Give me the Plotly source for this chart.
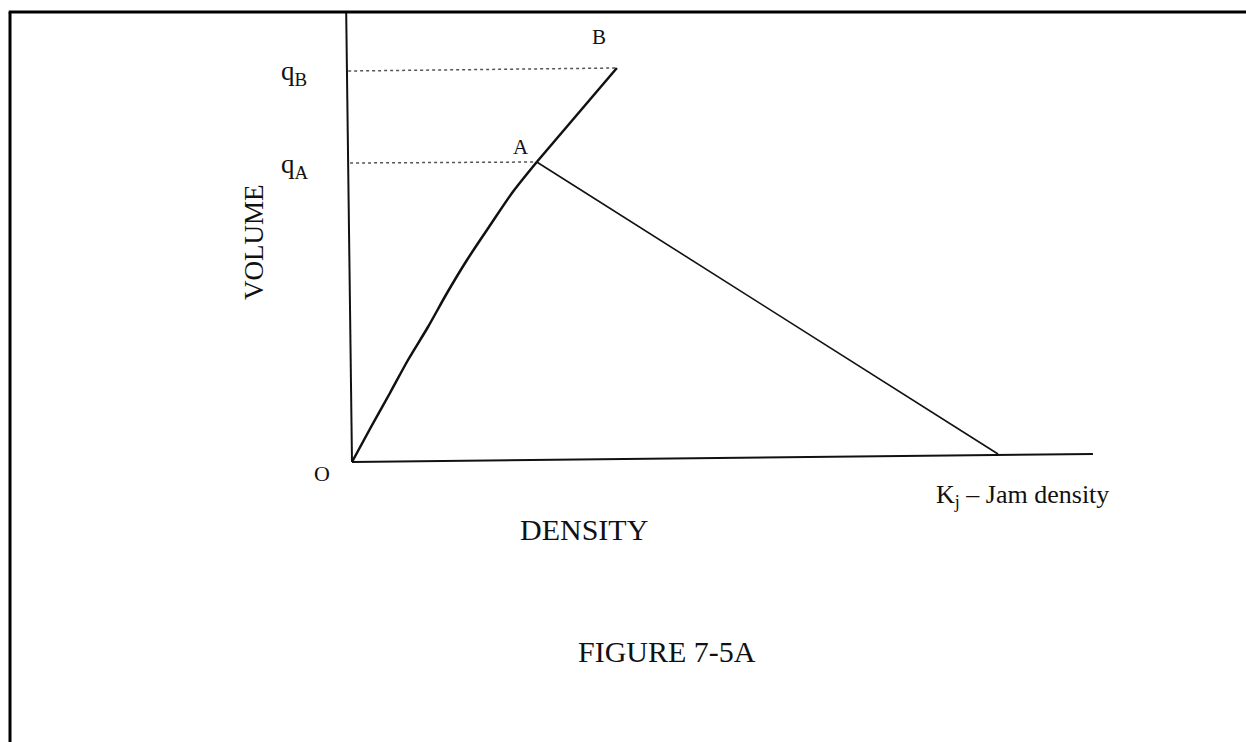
import plotly.graph_objects as go

# ---- data (density in veh/km-like units, volume in veh/h-like units) ----
curve_density = [0, 2.94, 5.88, 8.67, 11.76, 14.71, 17.8, 21.2, 24.77, 28.6]
curve_volume = [0, 175, 345, 510, 675, 845, 1010, 1175, 1345, 1500]
point_B_density = 41.0
point_B_volume = 1970
jam_density = 100.0
jam_volume = 40            # scan skew of the baseline
qA = 1500
qB = 1965
axis_x_end = 114.7
axis_x_end_volume = 40
axis_y_top = 2250
axis_y_top_density = -0.9

FONT = "Liberation Serif, Times New Roman, serif"
INK = "#111111"

fig = go.Figure()

# horizontal (density) axis
fig.add_trace(go.Scatter(x=[0, axis_x_end], y=[0, axis_x_end_volume], mode="lines",
                         line=dict(color=INK, width=2), hoverinfo="skip"))
# vertical (volume) axis
fig.add_trace(go.Scatter(x=[0, axis_y_top_density], y=[0, axis_y_top], mode="lines",
                         line=dict(color=INK, width=2), hoverinfo="skip"))
# dotted reference lines qA, qB
fig.add_trace(go.Scatter(x=[-0.3, curve_density[-1]], y=[qA - 5, qA], mode="lines",
                         line=dict(color="#555555", width=1.5, dash="dot"), hoverinfo="skip"))
fig.add_trace(go.Scatter(x=[-0.6, point_B_density], y=[qB - 10, point_B_volume], mode="lines",
                         line=dict(color="#555555", width=1.5, dash="dot"), hoverinfo="skip"))
# flow-density curve O -> A (smooth)
fig.add_trace(go.Scatter(x=curve_density, y=curve_volume, mode="lines",
                         line=dict(color=INK, width=2.5, shape="spline", smoothing=0.8),
                         hoverinfo="skip"))
# straight continuation A -> B
fig.add_trace(go.Scatter(x=[curve_density[-1], point_B_density],
                         y=[curve_volume[-1], point_B_volume], mode="lines",
                         line=dict(color=INK, width=2.5), hoverinfo="skip"))
# line A -> jam density
fig.add_trace(go.Scatter(x=[curve_density[-1], jam_density], y=[curve_volume[-1], jam_volume],
                         mode="lines", line=dict(color=INK, width=1.6), hoverinfo="skip"))

ann = []
def lab(text, x, y, size, xs=0, ys=0, ref="data", angle=0, xanchor="center"):
    ann.append(dict(text=text, x=x, y=y, xref="x" if ref == "data" else "paper",
                    yref="y" if ref == "data" else "paper", showarrow=False,
                    xshift=xs, yshift=ys, textangle=angle, xanchor=xanchor,
                    font=dict(family=FONT, size=size, color=INK)))

lab("q<sub>B</sub>", 0, qB, 27, xs=-58, ys=-4)
lab("q<sub>A</sub>", 0, qA, 27, xs=-57, ys=-4)
lab("O", 0, 0, 22, xs=-30, ys=-11)
lab("B", point_B_density, point_B_volume, 21, xs=-18, ys=31)
lab("A", curve_density[-1], curve_volume[-1], 21, xs=-16, ys=15)
lab("K<sub>j</sub> – Jam density", jam_density, 0, 26, xs=24, ys=-34)
lab("VOLUME", 0, 1100, 27, xs=-98, angle=-90)
lab("DENSITY", 0.469, 0.262, 30, ref="paper")
lab("FIGURE 7-5A", 0.535, 0.097, 30, ref="paper")

fig.update_layout(
    width=1246, height=742,
    margin=dict(l=0, r=0, t=0, b=0),
    paper_bgcolor="white", plot_bgcolor="white",
    showlegend=False,
    xaxis=dict(range=[-54.49, 138.39], visible=False, fixedrange=True),
    yaxis=dict(range=[-1400, 2310], visible=False, fixedrange=True),
    annotations=ann,
    shapes=[
        dict(type="line", xref="paper", yref="paper", x0=0.007, x1=1.0, y0=1 - 12 / 742, y1=1 - 12 / 742,
             line=dict(color="black", width=3)),
        dict(type="line", xref="paper", yref="paper", x0=10 / 1246, x1=10 / 1246, y0=0, y1=1 - 12 / 742,
             line=dict(color="black", width=3)),
    ],
)

fig.write_html("out.html", config={"displayModeBar": False},
               post_script="document.body.style.margin='0';document.body.style.overflow='hidden';")
